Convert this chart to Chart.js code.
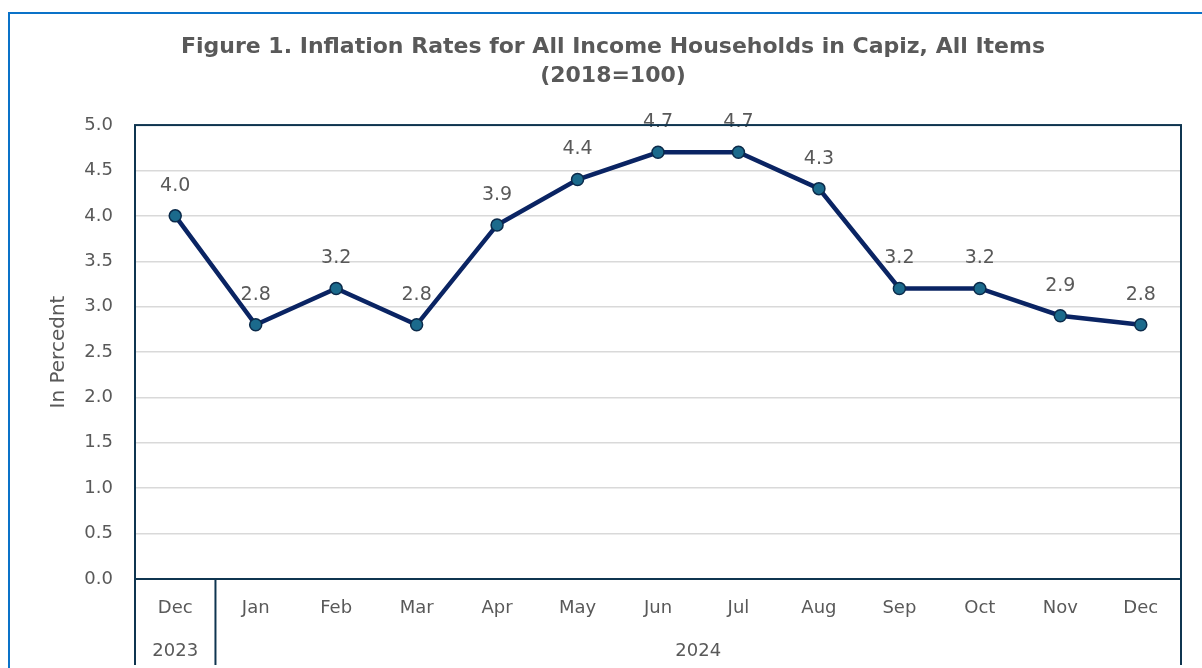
<!DOCTYPE html>
<html lang="en">
<head>
  <meta charset="UTF-8">
  <title>Inflation Rates Capiz</title>
  <script src="https://cdn.jsdelivr.net/npm/chart.js"></script>
  <style>
    body {
      margin: 0;
      background: #ffffff;
      overflow: hidden;
    }

    #frame {
      position: absolute;
      left: 8px;
      top: 12px;
      width: 1300px;
      height: 800px;
      border-left: 2px solid #0a72c8;
      border-top: 2px solid #0a72c8;
    }

    #wrap {
      position: absolute;
      left: 0;
      top: 0;
      width: 1202px;
      height: 668px;
    }
  </style>
</head>

<body>
  <div id="frame"></div>
  <div id="wrap">
    <canvas id="grafico"></canvas>
  </div>

<script>
  const meses = ['Dec', 'Jan', 'Feb', 'Mar', 'Apr', 'May', 'Jun', 'Jul', 'Aug', 'Sep', 'Oct', 'Nov', 'Dec'];
  const anos = ['2023', '2024'];
  const mesesPorAno = [1, 12];
  const inflacao = [4.0, 2.8, 3.2, 2.8, 3.9, 4.4, 4.7, 4.7, 4.3, 3.2, 3.2, 2.9, 2.8];

  const cinza = '#595959';
  const fonte = "'DejaVu Sans', Verdana, sans-serif";

  // moldura da area do grafico, separadores e anos embaixo
  const molduraPlugin = {
    id: 'moldura',
    afterDraw(chart) {
      const ctx = chart.ctx;
      const a = chart.chartArea;
      const x = chart.scales.x;
      const fundo = chart.height - 3;
      ctx.save();
      ctx.strokeStyle = '#0f3550';
      ctx.lineWidth = 2;
      ctx.strokeRect(a.left, a.top, a.right - a.left, a.bottom - a.top);

      // linhas verticais entre os anos
      let idx = 0;
      const limites = [a.left];
      mesesPorAno.forEach(n => {
        idx += n;
        if (idx < meses.length) {
          limites.push((x.getPixelForValue(idx - 1) + x.getPixelForValue(idx)) / 2);
        }
      });
      limites.push(a.right);
      limites.forEach(px => {
        ctx.beginPath();
        ctx.moveTo(px, a.bottom);
        ctx.lineTo(px, fundo);
        ctx.stroke();
      });

      // rotulos dos anos
      ctx.fillStyle = cinza;
      ctx.font = '18px ' + fonte;
      ctx.textAlign = 'center';
      ctx.textBaseline = 'middle';
      let inicio = 0;
      anos.forEach((ano, i) => {
        const fim = inicio + mesesPorAno[i] - 1;
        const cx = (x.getPixelForValue(inicio) + x.getPixelForValue(fim)) / 2;
        ctx.fillText(ano, cx, 651);
        inicio = fim + 1;
      });
      ctx.restore();
    }
  };

  // valores em cima dos pontos
  const rotulosPlugin = {
    id: 'rotulos',
    afterDatasetsDraw(chart) {
      const ctx = chart.ctx;
      const meta = chart.getDatasetMeta(0);
      ctx.save();
      ctx.fillStyle = cinza;
      ctx.font = '19px ' + fonte;
      ctx.textAlign = 'center';
      ctx.textBaseline = 'middle';
      meta.data.forEach((p, i) => {
        ctx.fillText(inflacao[i].toFixed(1), p.x, p.y - 30);
      });
      ctx.restore();
    }
  };

  let ctx = document.getElementById('grafico').getContext('2d');
  let grafico = new Chart(ctx, {
    type: 'line',
    data: {
      labels: meses,
      datasets: [{
        data: inflacao,
        borderColor: '#0a2463',
        borderWidth: 4.5,
        pointRadius: 6,
        pointBackgroundColor: '#1b6a8c',
        pointBorderColor: '#0b2a4a',
        pointBorderWidth: 1.5,
        tension: 0,
        clip: false
      }]
    },
    options: {
      responsive: true,
      maintainAspectRatio: false,
      animation: false,
      layout: {
        padding: { left: 45, right: 21, top: 0, bottom: 0 }
      },
      scales: {
        x: {
          offset: true,
          grid: { display: false },
          border: { display: false },
          ticks: {
            color: cinza,
            font: { size: 18, family: fonte },
            padding: 11,
            maxRotation: 0,
            autoSkip: false
          },
          afterFit(scale) {
            scale.height = 89;
          }
        },
        y: {
          min: 0,
          max: 5,
          border: { display: false },
          grid: { color: '#d9d9d9', lineWidth: 1.5, drawTicks: false },
          ticks: {
            stepSize: 0.5,
            color: cinza,
            font: { size: 18, family: fonte },
            padding: 22,
            callback: v => v.toFixed(1)
          },
          title: {
            display: true,
            text: 'In Percednt',
            color: cinza,
            font: { size: 20, family: fonte },
            padding: 2
          },
          afterFit(scale) {
            scale.width = 90;
          }
        }
      },
      plugins: {
        legend: { display: false },
        tooltip: { enabled: false },
        title: {
          display: true,
          text: ['Figure 1. Inflation Rates for All Income Households in Capiz, All Items', '(2018=100)'],
          color: cinza,
          font: { size: 22, weight: 'bold', family: fonte, lineHeight: 1.32 },
          padding: { top: 33, bottom: 34 }
        }
      }
    },
    plugins: [molduraPlugin, rotulosPlugin]
  });
</script>
</body>
</html>
